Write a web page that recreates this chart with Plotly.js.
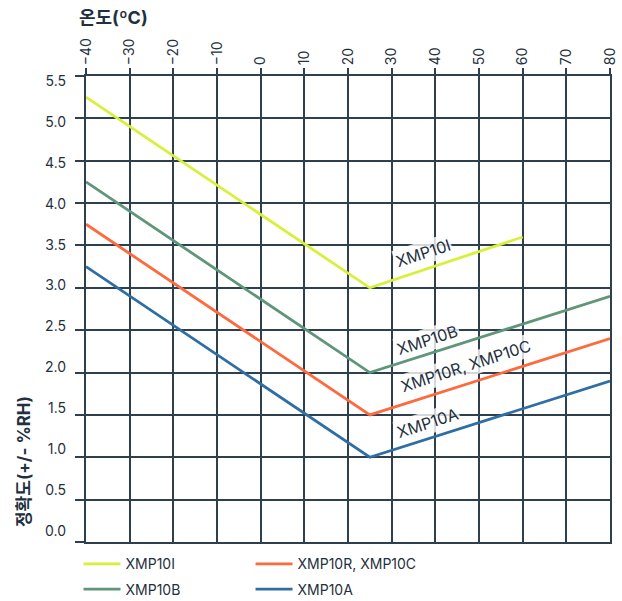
<!DOCTYPE html>
<html>
<head>
<meta charset="utf-8">
<script src="https://cdn.plot.ly/plotly-3.0.1.min.js"></script>
<style>html,body{margin:0;padding:0;background:#fff;}#chart{width:622px;height:601px;}</style>
</head>
<body>
<div id="chart"></div>
<script>
// Data
const seriesNames = ["XMP10I", "XMP10R, XMP10C", "XMP10B", "XMP10A"];
const xmp10iTemp = [-40, 25, 60];
const xmp10iAcc = [5.25, 3.0, 3.6];
const xmp10rcTemp = [-40, 25, 80];
const xmp10rcAcc = [3.75, 1.5, 2.4];
const xmp10bTemp = [-40, 25, 80];
const xmp10bAcc = [4.25, 2.0, 2.9];
const xmp10aTemp = [-40, 25, 80];
const xmp10aAcc = [3.25, 1.0, 1.9];
const xTicks = [-40, -30, -20, -10, 0, 10, 20, 30, 40, 50, 60, 70, 80];
const yTicks = [0, 0.5, 1, 1.5, 2, 2.5, 3, 3.5, 4, 4.5, 5, 5.5];
const yTickText = ["0.0", "0.5", "1.0", "1.5", "2.0", "2.5", "3.0", "3.5", "4.0", "4.5", "5.0", "5.5"];
// Line labels: [text, x, y]
const lineLabels = [
  ["XMP10I", 37.2, 3.41],
  ["XMP10B", 38.1, 2.38],
  ["XMP10R, XMP10C", 46.8, 2.08],
  ["XMP10A", 38.1, 1.40]
];

const colors = {I: "#d8f03a", RC: "#ff6a3d", B: "#5f9679", A: "#2f6ea5"};
const ink = "#1f3040";
const grid = "#2e3f4e";
const FONT = "Inter, 'Noto Sans CJK KR', sans-serif";

const traces = [
  {x: xmp10iTemp, y: xmp10iAcc, name: seriesNames[0], line: {color: colors.I}, legend: "legend", legendgroup: "a"},
  {x: xmp10bTemp, y: xmp10bAcc, name: seriesNames[2], line: {color: colors.B}, legend: "legend", legendgroup: "b"},
  {x: xmp10rcTemp, y: xmp10rcAcc, name: seriesNames[1], line: {color: colors.RC}, legend: "legend2", legendgroup: "c"},
  {x: xmp10aTemp, y: xmp10aAcc, name: seriesNames[3], line: {color: colors.A}, legend: "legend2", legendgroup: "d"}
].map(t => Object.assign({type: "scatter", mode: "lines", hoverinfo: "skip"}, t, {line: Object.assign({width: 2.8}, t.line)}));
// invisible helper trace so the tick-label axis (y2) is drawn
traces.push({type: "scatter", mode: "markers", x: [null], y: [null], xaxis: "x2", yaxis: "y2", showlegend: false, hoverinfo: "skip"});

const annotations = lineLabels.map(l => ({
  text: l[0], x: l[1], y: l[2], xref: "x", yref: "y", showarrow: false,
  textangle: -18, font: {family: FONT, size: 16, color: ink},
  bgcolor: "rgba(255,255,255,0.8)", borderpad: 1
}));
annotations.push({
  text: "<b>온도(ºC)</b>", xref: "paper", yref: "paper", x: -0.017, y: 1.1266,
  xanchor: "left", yanchor: "middle", showarrow: false,
  font: {family: FONT, size: 18, color: ink}
});
annotations.push({
  text: "<b>정확도(+/- %RH)</b>", xref: "paper", yref: "paper", x: -0.118, y: 0.172,
  xanchor: "center", yanchor: "middle", textangle: -90, showarrow: false,
  font: {family: FONT, size: 17, color: ink}
});

const legendBase = {
  orientation: "v", xanchor: "left", yanchor: "top",
  font: {family: FONT, size: 14, color: ink},
  bgcolor: "rgba(0,0,0,0)", tracegroupgap: 4, itemwidth: 37
};

const layout = {
  width: 622, height: 601,
  margin: {l: 86, r: 12, t: 76, b: 59, autoexpand: false},
  paper_bgcolor: "#fff", plot_bgcolor: "rgba(0,0,0,0)",
  font: {family: FONT, color: ink},
  showlegend: true,
  xaxis: {
    side: "top", range: [-40, 80], tickmode: "array", tickvals: xTicks,
    tickangle: -90, ticks: "outside", ticklen: 6, tickcolor: grid, tickwidth: 2,
    showgrid: true, gridcolor: grid, gridwidth: 2, zeroline: false,
    showline: true, linecolor: grid, linewidth: 2, mirror: true,
    tickfont: {family: FONT, size: 14, color: ink}, fixedrange: true
  },
  yaxis: {
    range: [0, 5.5], tickmode: "array", tickvals: yTicks, showticklabels: false,
    ticks: "outside", ticklen: 9, tickcolor: grid, tickwidth: 2,
    showgrid: true, gridcolor: grid, gridwidth: 2, zeroline: false,
    showline: true, linecolor: grid, linewidth: 2, mirror: true, fixedrange: true
  },
  xaxis2: {range: [-40, 80], visible: false, anchor: "y2", fixedrange: true},
  yaxis2: {
    range: [0, 5.5], domain: [0.0236, 0.9893], anchor: "free", position: 0,
    tickmode: "array", tickvals: yTicks, ticktext: yTickText,
    ticks: "", showgrid: false, zeroline: false, showline: false,
    ticklabelstandoff: 20, tickfont: {family: FONT, size: 14, color: ink}, fixedrange: true
  },
  legend: Object.assign({}, legendBase, {x: -0.0143, y: -0.0136}),
  legend2: Object.assign({}, legendBase, {x: 0.314, y: -0.0136}),
  annotations: annotations
};

Plotly.newPlot("chart", traces, layout, {displayModeBar: false, staticPlot: true});
</script>
</body>
</html>
